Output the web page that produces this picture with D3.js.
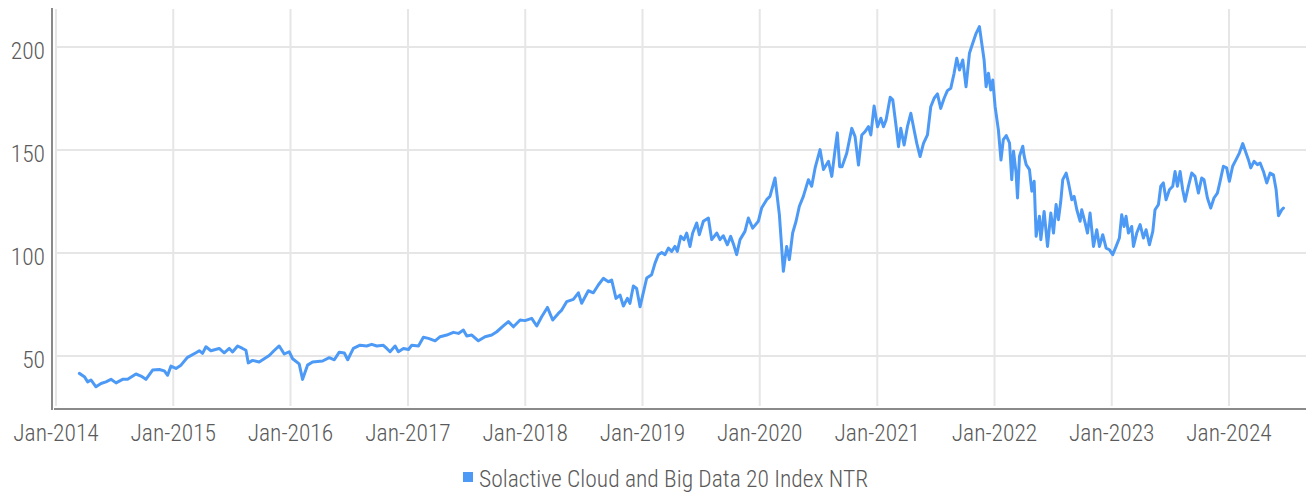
<!DOCTYPE html>
<html>
<head>
<meta charset="utf-8">
<script src="https://cdn.jsdelivr.net/npm/d3@7"></script>
<style>
  html, body { margin: 0; padding: 0; background: #fff; }
  svg { display: block; }
  text { font-family: "Roboto Condensed", "Liberation Sans Narrow", "DejaVu Sans Condensed", Roboto, sans-serif; font-weight: 300; fill: #5a5a5a; }
</style>
</head>
<body>
<svg id="chart" width="1306" height="493"></svg>
<script>
// ---- data ----
const seriesName = "Solactive Cloud and Big Data 20 Index NTR";
const yTicks = [50, 100, 150, 200];
const xTickYears = [2014, 2015, 2016, 2017, 2018, 2019, 2020, 2021, 2022, 2023, 2024];
const xTickLabels = xTickYears.map(y => "Jan-" + y);

// observation time as decimal year
const obsYear = [
  2014.199, 2014.242, 2014.270, 2014.298, 2014.341, 2014.384, 2014.426, 2014.469, 2014.512, 2014.568,
  2014.611, 2014.682, 2014.725, 2014.767, 2014.824, 2014.881, 2014.924, 2014.952, 2014.980, 2015.023,
  2015.066, 2015.122, 2015.194, 2015.222, 2015.250, 2015.279, 2015.321, 2015.392, 2015.435, 2015.478,
  2015.506, 2015.549, 2015.591, 2015.620, 2015.640, 2015.677, 2015.733, 2015.776, 2015.819, 2015.861,
  2015.904, 2015.947, 2015.989, 2016.018, 2016.074, 2016.103, 2016.145, 2016.188, 2016.273, 2016.330,
  2016.373, 2016.415, 2016.458, 2016.487, 2016.535, 2016.592, 2016.648, 2016.691, 2016.734, 2016.790,
  2016.819, 2016.847, 2016.890, 2016.918, 2016.961, 2017.004, 2017.032, 2017.089, 2017.131, 2017.174,
  2017.231, 2017.274, 2017.330, 2017.387, 2017.430, 2017.472, 2017.501, 2017.544, 2017.600, 2017.657,
  2017.714, 2017.757, 2017.813, 2017.856, 2017.899, 2017.956, 2017.998, 2018.055, 2018.098, 2018.140,
  2018.189, 2018.234, 2018.282, 2018.311, 2018.353, 2018.410, 2018.453, 2018.481, 2018.538, 2018.581,
  2018.623, 2018.666, 2018.709, 2018.737, 2018.774, 2018.808, 2018.837, 2018.871, 2018.893, 2018.922,
  2018.950, 2018.979, 2019.036, 2019.078, 2019.107, 2019.135, 2019.164, 2019.192, 2019.221, 2019.249,
  2019.277, 2019.297, 2019.326, 2019.354, 2019.377, 2019.405, 2019.428, 2019.462, 2019.485, 2019.519,
  2019.562, 2019.590, 2019.633, 2019.661, 2019.689, 2019.724, 2019.752, 2019.780, 2019.803, 2019.832,
  2019.874, 2019.903, 2019.940, 2019.988, 2020.016, 2020.059, 2020.087, 2020.130, 2020.167, 2020.201,
  2020.229, 2020.252, 2020.280, 2020.309, 2020.337, 2020.371, 2020.414, 2020.442, 2020.471, 2020.513,
  2020.542, 2020.585, 2020.613, 2020.641, 2020.660, 2020.680, 2020.700, 2020.740, 2020.783, 2020.811,
  2020.840, 2020.868, 2020.896, 2020.925, 2020.945, 2020.973, 2021.002, 2021.030, 2021.053, 2021.075,
  2021.110, 2021.132, 2021.161, 2021.181, 2021.200, 2021.229, 2021.257, 2021.286, 2021.314, 2021.337,
  2021.365, 2021.394, 2021.428, 2021.456, 2021.485, 2021.513, 2021.541, 2021.570, 2021.598, 2021.627,
  2021.655, 2021.678, 2021.701, 2021.729, 2021.757, 2021.786, 2021.814, 2021.843, 2021.871, 2021.891,
  2021.911, 2021.928, 2021.948, 2021.968, 2021.985, 2022.005, 2022.033, 2022.055, 2022.075, 2022.100,
  2022.128, 2022.147, 2022.162, 2022.184, 2022.196, 2022.213, 2022.241, 2022.253, 2022.270, 2022.298,
  2022.318, 2022.338, 2022.355, 2022.383, 2022.395, 2022.423, 2022.452, 2022.480, 2022.503, 2022.525,
  2022.545, 2022.565, 2022.582, 2022.611, 2022.631, 2022.659, 2022.679, 2022.702, 2022.730, 2022.744,
  2022.773, 2022.793, 2022.815, 2022.844, 2022.872, 2022.895, 2022.923, 2022.952, 2022.980, 2023.008,
  2023.037, 2023.065, 2023.085, 2023.105, 2023.122, 2023.142, 2023.170, 2023.185, 2023.213, 2023.242,
  2023.270, 2023.293, 2023.321, 2023.350, 2023.369, 2023.398, 2023.418, 2023.440, 2023.463, 2023.492,
  2023.520, 2023.540, 2023.560, 2023.583, 2023.605, 2023.625, 2023.654, 2023.682, 2023.710, 2023.739,
  2023.767, 2023.787, 2023.816, 2023.844, 2023.872, 2023.901, 2023.924, 2023.952, 2023.980, 2024.003,
  2024.031, 2024.060, 2024.088, 2024.117, 2024.145, 2024.165, 2024.185, 2024.213, 2024.242, 2024.265,
  2024.293, 2024.321, 2024.350, 2024.378, 2024.401, 2024.421, 2024.449, 2024.463
];

const indexValue = [
  41.6, 40.0, 37.5, 38.4, 35.1, 36.7, 37.5, 38.7, 37.0, 38.7,
  38.7, 41.3, 40.3, 38.7, 43.2, 43.5, 42.8, 40.7, 45.1, 44.0,
  45.6, 49.4, 51.6, 52.6, 51.3, 54.5, 52.6, 53.7, 51.6, 53.7,
  52.0, 54.9, 53.7, 52.8, 46.7, 47.9, 47.1, 48.7, 50.3, 52.7,
  54.9, 51.0, 52.1, 48.7, 46.2, 38.7, 45.6, 47.1, 47.6, 49.2,
  48.2, 51.9, 51.5, 48.2, 53.7, 55.3, 54.9, 55.7, 54.9, 55.2,
  53.7, 52.1, 54.9, 52.1, 53.7, 53.2, 55.3, 54.9, 59.1, 58.6,
  57.4, 59.4, 60.2, 61.5, 61.0, 62.6, 59.7, 60.2, 57.4, 59.4,
  60.2, 61.8, 64.6, 66.7, 64.2, 67.5, 67.2, 68.3, 64.6, 69.1,
  73.6, 67.5, 70.7, 72.3, 76.4, 77.5, 80.7, 75.6, 81.7, 80.7,
  84.5, 87.7, 86.1, 86.9, 78.0, 79.6, 74.3, 78.0, 75.6, 84.0,
  82.8, 73.9, 87.9, 89.5, 95.1, 99.2, 100.3, 99.2, 102.4, 100.8,
  103.2, 100.8, 108.1, 106.5, 109.7, 103.2, 109.7, 114.6, 108.9, 115.4,
  117.0, 106.5, 109.7, 106.5, 108.4, 104.0, 108.1, 103.6, 99.2, 106.5,
  110.5, 117.0, 112.1, 115.4, 121.8, 125.9, 127.5, 136.4, 118.6, 91.1,
  103.2, 96.8, 109.7, 115.4, 122.7, 127.5, 135.6, 132.4, 141.3, 150.2,
  140.5, 144.5, 137.2, 150.2, 158.3, 141.9, 141.9, 148.4, 160.5, 156.5,
  142.7, 157.3, 158.9, 161.3, 157.3, 171.4, 161.3, 165.4, 161.3, 164.6,
  175.6, 174.3, 161.3, 151.6, 160.5, 152.4, 161.3, 167.8, 159.7, 153.2,
  146.8, 153.2, 157.3, 171.0, 175.1, 177.2, 170.2, 175.1, 178.8, 180.0,
  187.2, 194.5, 188.8, 193.7, 180.7, 196.9, 201.8, 206.6, 209.9, 201.8,
  193.7, 180.7, 187.2, 179.1, 184.0, 171.0, 159.7, 145.1, 155.0, 157.0,
  153.4, 135.6, 149.4, 138.8, 126.7, 147.0, 151.8, 147.0, 142.9, 140.5,
  130.0, 134.8, 108.1, 117.8, 106.5, 120.2, 103.2, 119.4, 109.7, 123.5,
  116.2, 125.1, 135.6, 138.8, 134.0, 125.9, 127.5, 121.0, 115.4, 121.0,
  114.6, 109.7, 119.4, 103.2, 111.3, 103.2, 108.9, 102.4, 101.6, 99.2,
  103.2, 107.3, 118.6, 112.9, 117.8, 109.7, 112.9, 103.2, 109.7, 113.8,
  107.3, 111.3, 104.0, 110.5, 121.0, 123.5, 132.4, 134.0, 125.9, 130.7,
  132.4, 139.6, 132.4, 139.6, 130.7, 125.1, 132.4, 138.8, 137.2, 129.1,
  136.4, 135.6, 126.7, 121.8, 126.7, 129.1, 134.8, 142.1, 141.3, 134.8,
  142.1, 145.3, 148.5, 153.1, 148.5, 145.3, 141.3, 144.5, 142.9, 143.7,
  139.6, 134.0, 138.8, 138.0, 130.7, 118.1, 121.0, 121.8
];

// ---- helpers ----
function decYearToDate(y) {
  const yr = Math.floor(y);
  const start = new Date(yr, 0, 1).getTime();
  const end = new Date(yr + 1, 0, 1).getTime();
  return new Date(start + (y - yr) * (end - start));
}
const data = obsYear.map((y, i) => ({ date: decYearToDate(y), value: indexValue[i] }));

// ---- layout ----
const W = 1306, H = 493;
const plotTop = 8, plotBottom = 408;
const svg = d3.select("#chart");

const x = d3.scaleTime()
  .domain([new Date(2014, 0, 1), new Date(2024, 0, 1)])
  .range([56, 1229]);
const y = d3.scaleLinear()
  .domain([24.8, 218.9])
  .range([plotBottom, plotTop]);

const grid = svg.append("g");
// horizontal gridlines
grid.selectAll("line.h").data(yTicks).enter().append("line")
  .attr("x1", 56).attr("x2", W)
  .attr("y1", d => y(d)).attr("y2", d => y(d))
  .attr("stroke", "#e6e6e6").attr("stroke-width", 2);
// vertical gridlines
const xTickDates = xTickYears.map(yr => new Date(yr, 0, 1));
grid.selectAll("line.v").data(xTickDates).enter().append("line")
  .attr("x1", d => x(d)).attr("x2", d => x(d))
  .attr("y1", 9).attr("y2", 406)
  .attr("stroke", "#e6e6e6").attr("stroke-width", 2);

// axis lines
svg.append("line").attr("x1", 52).attr("x2", 52).attr("y1", 8).attr("y2", 410)
  .attr("stroke", "#8a8a8a").attr("stroke-width", 2);
svg.append("line").attr("x1", 54).attr("x2", W).attr("y1", 409).attr("y2", 409)
  .attr("stroke", "#8a8a8a").attr("stroke-width", 2);

// y tick labels
svg.append("g").selectAll("text").data(yTicks).enter().append("text")
  .attr("x", 45).attr("y", d => y(d) + 12)
  .attr("text-anchor", "end")
  .style("font-size", "23.5px")
  .text(d => d);

// x tick labels
svg.append("g").selectAll("text").data(xTickDates).enter().append("text")
  .attr("x", d => x(d)).attr("y", 441)
  .attr("text-anchor", "middle")
  .style("font-size", "23.5px")
  .text((d, i) => xTickLabels[i]);

// series line
const line = d3.line().x(d => x(d.date)).y(d => y(d.value));
svg.append("path").datum(data)
  .attr("d", line)
  .attr("fill", "none")
  .attr("stroke", "#4d9af6")
  .attr("stroke-width", 3)
  .attr("stroke-linejoin", "round")
  .attr("stroke-linecap", "round");

// legend
const lg = svg.append("g");
lg.append("rect").attr("x", 463).attr("y", 472).attr("width", 10).attr("height", 10)
  .attr("fill", "#4d9af6");
lg.append("text").attr("x", 479).attr("y", 487)
  .style("font-size", "23.5px")
  .text(seriesName);
</script>
</body>
</html>
